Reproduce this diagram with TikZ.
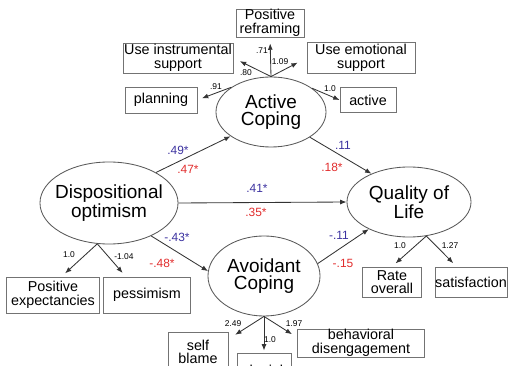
\documentclass[tikz,border=0pt]{standalone}
\usepackage{fontspec}
\setmainfont{Liberation Sans}
\usetikzlibrary{shapes.geometric, arrows.meta}

\definecolor{pathblue}{RGB}{60,50,160}
\definecolor{pathred}{RGB}{225,45,45}

\begin{document}
\begin{tikzpicture}[
  x=0.025cm, y=-0.025cm,
  latent/.style={ellipse, draw=black!65, line width=0.6pt, inner sep=0pt, inner xsep=-6pt, align=center, font=\fontsize{13.5}{12}\selectfont},
  measure/.style={rectangle, draw=black!55, line width=0.6pt, inner sep=0pt, align=center, font=\fontsize{10.2}{9.6}\selectfont},
  path/.style={draw=black!80, line width=0.6pt, -{Latex[length=4.5pt, width=3.5pt]}},
  load/.style={font=\fontsize{6}{6}\selectfont, inner sep=0pt},
  coefb/.style={font=\fontsize{8.5}{8.5}\selectfont, text=pathblue, inner sep=0pt},
  coefr/.style={font=\fontsize{8.5}{8.5}\selectfont, text=pathred, inner sep=0pt}
]

\useasboundingbox (0,0) rectangle (508,366);

% ============================================
% LATENT VARIABLES
% ============================================
\node[latent, minimum width=3.45cm, minimum height=2.05cm] (disp) at (109,203) {Dispositional\\optimism};
\node[latent, minimum width=2.75cm, minimum height=1.75cm] (act) at (271,112) {Active\\Coping};
\node[latent, minimum width=2.8cm, minimum height=2cm] (avoid) at (264,276) {Avoidant\\Coping};
\node[latent, minimum width=3.1cm, minimum height=1.75cm] (qol) at (409,202) {Quality of\\Life};

% ============================================
% ACTIVE COPING INDICATORS
% ============================================
\node[measure, minimum width=1.7cm, minimum height=0.7cm] (reframe) at (270,23) {Positive\\reframing};
\node[measure, minimum width=2.75cm, minimum height=0.75cm] (instr) at (178,58) {Use instrumental\\support};
\node[measure, minimum width=2.7cm, minimum height=0.775cm] (emot) at (361,58) {Use emotional\\support};
\node[measure, minimum width=1.8cm, minimum height=0.65cm] (plan) at (161,100) {planning};
\node[measure, minimum width=1.4cm, minimum height=0.625cm] (activ) at (368,100) {active};

\draw[path, shorten >=0.15cm] (act.north) -- (reframe.south);
\draw[path, shorten >=0.18cm] (act.north) -- (instr.east);
\draw[path, shorten >=0.25cm] (act.north) -- (emot.west);
\draw[path, shorten >=0.12cm] (act.148) -- (plan.east);
\draw[path] (act.30) -- (activ.west);

\node[load] (l71) at (262,51) {.71};
\node[load] (l109) at (280,62) {1.09};
\node[load] (l80) at (246,73) {.80};
\node[load] (l91) at (216,87) {.91};
\node[load] (l10a) at (330,89) {1.0};

% ============================================
% OPTIMISM INDICATORS
% ============================================
\node[measure, minimum width=2.325cm, minimum height=0.9cm] (posexp) at (53,295) {Positive\\expectancies};
\node[measure, minimum width=2.175cm, minimum height=0.9cm] (pess) at (147,295) {pessimism};

\draw[path, shorten >=0.12cm] (disp.254) -- (posexp.65);
\draw[path, shorten >=0.12cm] (disp.254) -- (pess.139);

\node[load] (l10b) at (69,255) {1.0};
\node[load] (l104) at (124,257) {-1.04};

% ============================================
% QUALITY OF LIFE INDICATORS
% ============================================
\node[measure, minimum width=1.475cm, minimum height=0.75cm] (rate) at (392,282) {Rate\\overall};
\node[measure, minimum width=1.8cm, minimum height=0.75cm] (satis) at (471,282) {satisfaction};

\draw[path, shorten >=0.12cm] (qol.-63) -- (rate.north);
\draw[path, shorten >=0.12cm] (qol.-63) -- (satis.133);

\node[load] (l10c) at (400,246) {1.0};
\node[load] (l127) at (450,246) {1.27};

% ============================================
% AVOIDANT COPING INDICATORS
% ============================================
\node[measure, minimum width=1.5cm, minimum height=1cm] (selfbl) at (198,352) {self\\blame};
\node[measure, minimum width=1.35cm, minimum height=0.85cm] (denial) at (264,370) {denial};
\node[measure, minimum width=3.175cm, minimum height=0.7cm] (behav) at (361,343) {behavioral\\disengagement};

\draw[path, shorten >=0.2cm] (avoid.south) -- (selfbl.23);
\draw[path, shorten >=0.05cm] (avoid.south) -- (denial.north);
\draw[path, shorten >=0.15cm] (avoid.south) -- (behav.175);

\node[load] (l249) at (233,324) {2.49};
\node[load] (l10d) at (270,340) {1.0};
\node[load] (l197) at (294,324) {1.97};

% ============================================
% STRUCTURAL PATHS
% ============================================
\draw[path] (disp.33) -- (act.211);
\draw[path] (act.-33) -- (qol.143);
\draw[path] (disp.east) -- (qol.west);
\draw[path] (disp.-38) -- (avoid.175);
\draw[path] (avoid.13) -- (qol.214);

\node[coefb] (c49) at (178,150) {.49*};
\node[coefr] (c47) at (188,169) {.47*};
\node[coefb] (c11a) at (343,145) {.11};
\node[coefr] (c18) at (332,167) {.18*};
\node[coefb] (c41) at (257,188) {.41*};
\node[coefr] (c35) at (256,212) {.35*};
\node[coefb] (c43) at (177,237) {-.43*};
\node[coefr] (c48) at (162,263) {-.48*};
\node[coefb] (c11b) at (339,235) {-.11};
\node[coefr] (c15) at (343,263) {-.15};

\end{tikzpicture}
\end{document}
